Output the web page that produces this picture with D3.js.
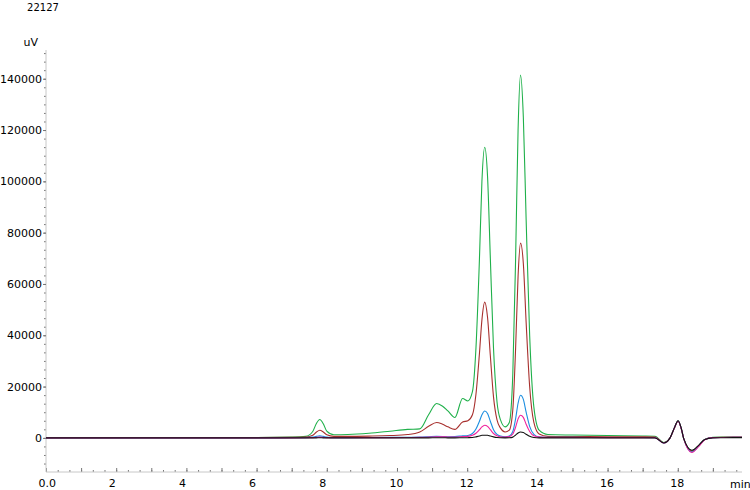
<!DOCTYPE html>
<html>
<head>
<meta charset="utf-8">
<script src="https://cdn.jsdelivr.net/npm/d3@7/dist/d3.min.js"></script>
<style>
  body { margin: 0; background: #fff; }
  svg { display: block; font-family: "DejaVu Sans", Verdana, sans-serif; }
</style>
</head>
<body>
<svg id="chart" width="750" height="490"></svg>
<script>
// retention times (min), shared by all traces
var times = [0, 6.0, 7.0, 7.4, 7.6, 7.7, 7.8, 7.9, 8.0, 8.2, 8.6, 9.2, 9.8, 10.3, 10.65, 10.9, 11.13, 11.3, 11.45, 11.65,
  11.87, 12.02, 12.15, 12.25, 12.35, 12.42, 12.5, 12.58, 12.66, 12.75, 12.85, 12.95, 13.08, 13.2, 13.3, 13.38, 13.45, 13.52,
  13.6, 13.68, 13.78, 13.9, 14.05, 14.3, 15, 16, 17, 17.35, 17.6, 17.78, 17.9, 18.01, 18.1, 18.17, 18.4, 18.6, 18.77, 19.0,
  19.3, 19.83];

// detector response (uV) per trace
var green = [0, 100, 300, 600, 2500, 5500, 7170, 5500, 2600, 1200, 1300, 1800, 2600, 3300, 3500, 9000, 13400, 12350, 10500, 7950,
  15360, 14400, 18000, 35000, 70000, 100000, 113300, 102000, 70000, 35000, 14000, 7000, 4300, 6000, 25000, 70000, 120000, 141400,
  125000, 85000, 40000, 12000, 3000, 1300, 1100, 900, 750, 650, -1800, 0, 3800, 6630, 3600, -300, -5000, -3000, -600, 200,
  300, 350];
var red = [0, 100, 200, 300, 1000, 2200, 3000, 2300, 1200, 600, 600, 700, 900, 1300, 2300, 4500, 6000, 5300, 4300, 3300,
  6200, 6700, 9000, 17000, 33000, 46000, 52900, 47000, 32000, 16000, 7000, 3800, 2300, 3000, 11000, 35000, 63000, 75900,
  68000, 45000, 20000, 6000, 1500, 600, 500, 450, 400, 350, -1900, 0, 3800, 6600, 3600, -300, -5200, -3000, -600, 150,
  250, 300];
var blue = [0, 0, 50, 100, 300, 600, 800, 600, 300, 100, 100, 150, 200, 250, 300, 450, 600, 550, 450, 500,
  800, 950, 1700, 3500, 6500, 9000, 10500, 9500, 6500, 3200, 1400, 700, 400, 700, 2500, 7500, 13500, 16600,
  15000, 10000, 4500, 1400, 400, 200, 200, 150, 150, 100, -2000, 0, 3800, 6600, 3600, -300, -5500, -3100, -600, 100,
  150, 200];
var magenta = [0, 0, 0, 50, 100, 200, 300, 200, 100, 50, 50, 100, 100, 150, 200, 300, 400, 400, 350, 350,
  500, 600, 1000, 1800, 3200, 4300, 4950, 4500, 3200, 1700, 800, 400, 300, 500, 1500, 4200, 7400, 8850,
  8000, 5300, 2500, 800, 300, 150, 150, 100, 100, 100, -2000, 0, 3700, 6500, 3500, -300, -5700, -3300, -700, 100,
  150, 200];
var black = [0, 0, 0, 0, 0, 0, 50, 0, 0, 0, 0, 0, 0, 0, 0, 0, 50, 50, 0, 0,
  50, 80, 150, 400, 750, 1000, 1050, 1000, 700, 400, 150, 50, 0, 50, 300, 1100, 1900, 2300,
  2100, 1400, 600, 150, 0, 0, 0, 0, 0, 0, -2000, 0, 3800, 6700, 3700, -300, -4800, -2800, -600, 0,
  50, 100];

var traceNames = ["green", "red", "blue", "magenta", "black"];
var traceValues = [green, red, blue, magenta, black];
var traceColors = ["#1fb04a", "#a8302e", "#1d8ee0", "#f0229c", "#111111"];

var xLabelTicks = [0, 2, 4, 6, 8, 10, 12, 14, 16, 18];
var yLabelTicks = [0, 20000, 40000, 60000, 80000, 100000, 120000, 140000];

(function() {
  var svg = d3.select("#chart");
  var pLeft = 46, pRight = 742, pTop = 50, pBottom = 472;

  var x = d3.scaleLinear().domain([0, 19.83]).range([pLeft, pRight]);
  var y = d3.scaleLinear().domain([-13300, 151200]).range([pBottom, pTop]);

  // minor ticks: 6 steps between labelled ticks
  var xMinor = d3.range(0, 19.83, 1 / 3);
  var yMinor = d3.range(-4, 46).map(function(i) { return i * 20000 / 6; })
    .filter(function(v) { return v >= -13300 && v <= 151200; });

  // x axis
  svg.append("g")
    .attr("transform", "translate(0," + pBottom + ")")
    .call(d3.axisBottom(x).tickValues(xMinor).tickSize(-2).tickFormat(""))
    .call(function(g) { g.select(".domain").remove(); g.selectAll("line").attr("stroke", "#777"); });
  svg.append("g")
    .attr("transform", "translate(0," + pBottom + ")")
    .call(d3.axisBottom(x).tickValues(d3.range(0, 20, 1)).tickSize(-4).tickFormat(""))
    .call(function(g) { g.select(".domain").remove(); g.selectAll("line").attr("stroke", "#777"); });
  var xAxis = svg.append("g")
    .attr("transform", "translate(0," + pBottom + ")")
    .call(d3.axisBottom(x).tickValues(xLabelTicks).tickSize(0).tickPadding(7)
      .tickFormat(function(d) { return d === 0 ? "0.0" : d; }));
  xAxis.select(".domain").attr("stroke", "#c8c8c8").attr("d", "M" + pLeft + ",0H" + pRight);
  xAxis.selectAll("text").attr("font-size", 11).attr("fill", "#000").attr("font-family", "DejaVu Sans")
    .attr("text-anchor", "start").attr("x", -8);

  // y axis
  svg.append("g")
    .attr("transform", "translate(" + pLeft + ",0)")
    .call(d3.axisLeft(y).tickValues(yMinor).tickSize(2).tickFormat(""))
    .call(function(g) { g.select(".domain").remove(); g.selectAll("line").attr("stroke", "#777"); });
  var yAxis = svg.append("g")
    .attr("transform", "translate(" + pLeft + ",0)")
    .call(d3.axisLeft(y).tickValues(yLabelTicks).tickSize(3).tickPadding(1).tickFormat(d3.format("d")));
  yAxis.select(".domain").attr("stroke", "#c8c8c8").attr("d", "M0," + pBottom + "V" + pTop);
  yAxis.selectAll("line").attr("stroke", "#777");
  yAxis.selectAll("text").attr("font-size", 11).attr("fill", "#000").attr("font-family", "DejaVu Sans");

  // axis captions
  svg.append("text").attr("x", 38).attr("y", 46).attr("text-anchor", "end")
    .attr("font-size", 11).text("uV");
  svg.append("text").attr("x", 730).attr("y", 488)
    .attr("font-size", 11).text("min");
  svg.append("text").attr("x", 43).attr("y", 11).attr("text-anchor", "middle")
    .attr("font-size", 10).text("22127");

  // traces
  var line = d3.line()
    .x(function(d) { return x(d[0]); })
    .y(function(d) { return y(d[1]); })
    .curve(d3.curveMonotoneX);

  svg.append("clipPath").attr("id", "plot")
    .append("rect").attr("x", pLeft).attr("y", pTop).attr("width", pRight - pLeft).attr("height", pBottom - pTop);

  svg.append("g").attr("clip-path", "url(#plot)")
    .selectAll("path")
    .data(traceValues)
    .enter()
    .append("path")
    .attr("class", function(d, i) { return "trace " + traceNames[i]; })
    .attr("fill", "none")
    .attr("stroke", function(d, i) { return traceColors[i]; })
    .attr("stroke-width", 1.1)
    .attr("d", function(vals) { return line(times.map(function(t, i) { return [t, vals[i]]; })); });
})();
</script>
</body>
</html>
